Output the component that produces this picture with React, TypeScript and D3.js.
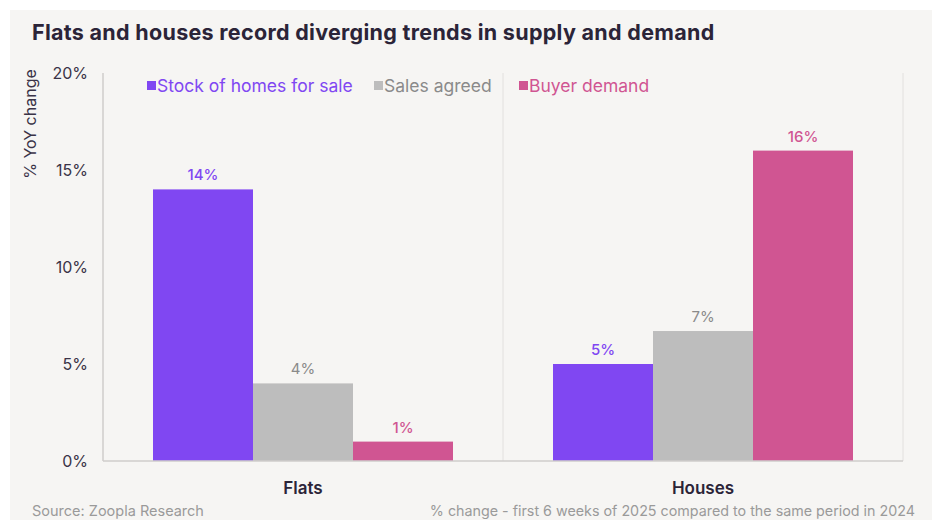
import React from "react";
import * as d3 from "d3";

const categories = ["Flats", "Houses"];
const seriesNames = ["Stock of homes for sale", "Sales agreed", "Buyer demand"];
const stockValues = [14, 5];
const salesValues = [4, 6.7];
const demandValues = [1, 16];
const yTicks = [0, 5, 10, 15, 20];

const fills = ["#8047f2", "#bdbdbd", "#d05592"];
const labelColors = ["#8047f2", "#8a8a8a", "#d05592"];
const FONT = "Inter, 'Noto Sans', sans-serif";

export default function App() {
  const W = 932, H = 520;
  const left = 103, right = 903, top = 73, bottom = 461;
  const series = [stockValues, salesValues, demandValues];

  const y = d3.scaleLinear().domain([0, 20]).range([bottom, top]);
  const x0 = d3.scaleBand<string>().domain(categories).range([left, right]).paddingInner(0).paddingOuter(0);
  const x1 = d3.scaleBand<string>().domain(seriesNames).range([0, x0.bandwidth()]).paddingOuter(0.5).paddingInner(0);

  const legendItems = [
    { x: 147, name: seriesNames[0] },
    { x: 374, name: seriesNames[1] },
    { x: 519, name: seriesNames[2] },
  ];

  return (
    <svg width={W} height={H} style={{ position: "absolute", left: 0, top: 0, display: "block" }} fontFamily={FONT}>
      <rect x={0} y={0} width={W} height={H} fill="#ffffff" />
      <rect x={10} y={10} width={W - 10} height={H - 10} fill="#f6f5f3" />
      <text x={32} y={40} fontSize={21.5} fontWeight={700} letterSpacing={0.3} fill="#2b2438">
        Flats and houses record diverging trends in supply and demand
      </text>

      {categories.map((c, i) => (
        i > 0 ? <line key={c} x1={x0(c)!} x2={x0(c)!} y1={top} y2={bottom} stroke="#e2e0de" strokeWidth={1} /> : null
      ))}
      <line x1={right} x2={right} y1={top} y2={bottom} stroke="#e2e0de" strokeWidth={1} />

      {categories.map((c, ci) => (
        <g key={c} transform={`translate(${x0(c)},0)`}>
          {series.map((vals, si) => {
            const v = vals[ci];
            const bx = x1(seriesNames[si])!;
            return (
              <g key={si}>
                <rect x={bx} y={y(v)} width={x1.bandwidth()} height={y(0) - y(v)} fill={fills[si]} />
                <text x={bx + x1.bandwidth() / 2} y={y(v) - 9} textAnchor="middle" fontSize={15} fontWeight={si === 1 ? 400 : 500} fill={labelColors[si]}>
                  {`${Math.round(v)}%`}
                </text>
              </g>
            );
          })}
        </g>
      ))}

      <line x1={left} x2={left} y1={top} y2={bottom} stroke="#cfcdcb" strokeWidth={1.5} />
      <line x1={left} x2={right} y1={bottom} y2={bottom} stroke="#cfcdcb" strokeWidth={1.5} />
      {yTicks.map((t) => (
        <text key={t} x={88} y={y(t)} dy="0.35em" textAnchor="end" fontSize={16} fill="#3a3347">
          {`${t}%`}
        </text>
      ))}
      <text transform={`translate(36,${124}) rotate(-90)`} textAnchor="middle" fontSize={16} fill="#3a3347">
        % YoY change
      </text>

      {categories.map((c) => (
        <text key={c} x={x0(c)! + x0.bandwidth() / 2} y={494} textAnchor="middle" fontSize={17} fontWeight={600} fill="#2b2438">
          {c}
        </text>
      ))}

      {legendItems.map((it, i) => (
        <g key={it.name}>
          <rect x={it.x} y={81} width={9} height={9} fill={fills[i]} />
          <text x={it.x + 10} y={86} dy="0.35em" fontSize={17.5} fill={i === 1 ? "#8a8a8a" : labelColors[i]}>
            {it.name}
          </text>
        </g>
      ))}

      <text x={32} y={516} fontSize={14.5} fill="#9a9a9a">Source: Zoopla Research</text>
      <text x={915} y={516} textAnchor="end" fontSize={14.3} fill="#9a9a9a">
        % change - first 6 weeks of 2025 compared to the same period in 2024
      </text>
    </svg>
  );
}
